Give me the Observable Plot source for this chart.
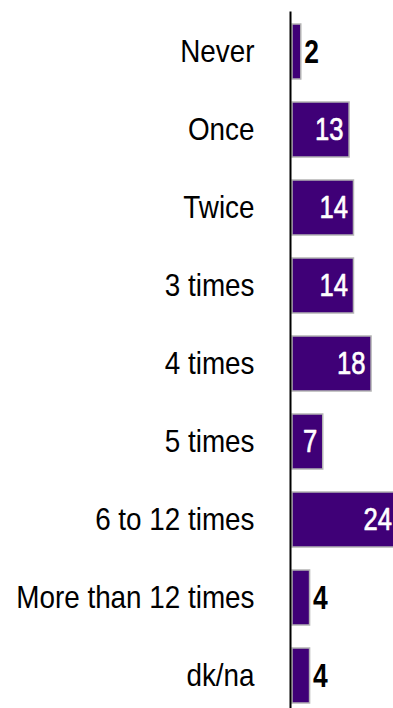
<!DOCTYPE html>
<html><head><meta charset="utf-8">
<script src="https://cdn.jsdelivr.net/npm/d3@7"></script>
<script src="https://cdn.jsdelivr.net/npm/@observablehq/plot@0.6"></script>
<style>
html,body{margin:0;padding:0;background:#fff;overflow:hidden;}
svg{display:block;}
</style></head><body><div id="chart"></div>
<script>
const categories = ["Never","Once","Twice","3 times","4 times","5 times","6 to 12 times","More than 12 times","dk/na"];
const values = [2,13,14,14,18,7,24,4,4];
const data = categories.map((c,i)=>({category:c, value:values[i]}));
const insideMin = 5;
const font = "'Liberation Sans', Arial, sans-serif";
const chart = Plot.plot({
  width: 393, height: 716,
  marginLeft: 292, marginRight: 0, marginTop: 11.5, marginBottom: 0,
  style: {fontFamily: font, overflow: "hidden", background: "#fff", color: "#000"},
  x: {domain: [0, 23], axis: null},
  y: {domain: categories, paddingInner: 0.3, paddingOuter: 0.15, axis: null},
  marks: [
    Plot.barX(data, {x: "value", y: "category", fill: "#3f0077", stroke: "#b4b4b4", strokeWidth: 1.5}),
    Plot.ruleX([0], {stroke: "#000", strokeWidth: 2, dx: -2}),
    Plot.axisY({tickSize: 0, tickPadding: 38, fontSize: 32, fill: "#000", label: null, className: "cat"}),
    Plot.text(data.filter(d => d.value >= insideMin), {x: "value", y: "category", text: d => String(d.value), textAnchor: "end", dx: -6, fill: "#fff", stroke: "#fff", strokeWidth: 0.7, fontSize: 32, className: "num"}),
    Plot.text(data.filter(d => d.value < insideMin), {x: "value", y: "category", text: d => String(d.value), textAnchor: "start", dx: 3, fill: "#000", fontSize: 33, fontWeight: "bold", className: "num"})
  ]
});
document.getElementById("chart").appendChild(chart);
// emulate a narrow face by horizontally condensing each text around its anchor
chart.querySelectorAll("text").forEach(el => {
  const isNum = el.closest(".num") !== null;
  const s = isNum ? 0.8 : 0.87;
  const t = el.getAttribute("transform") || "";
  el.setAttribute("transform", `${t} scale(${s},1)`);
});
</script></body></html>
